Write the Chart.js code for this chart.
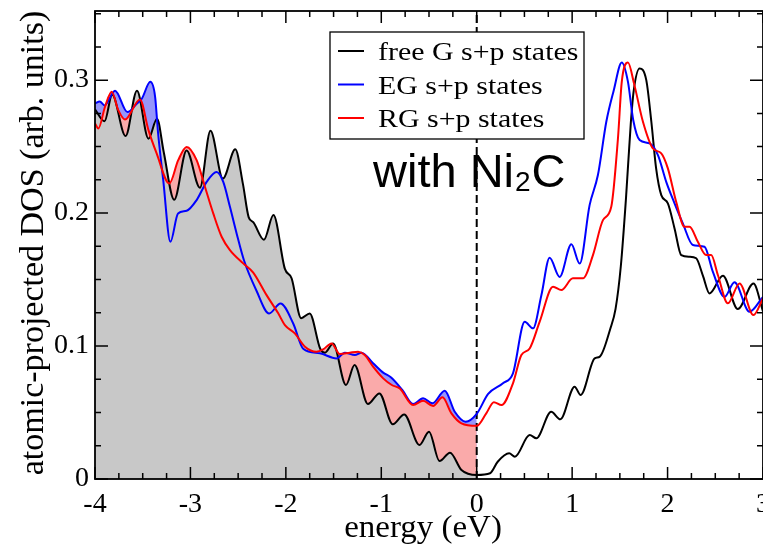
<!DOCTYPE html>
<html>
<head>
<meta charset="utf-8">
<script src="https://cdn.jsdelivr.net/npm/chart.js@4.4.0/dist/chart.umd.min.js"></script>
<style>
  html, body { margin: 0; padding: 0; background: #fff; }
  #grafico { display: block; }
</style>
</head>
<body>
<canvas id="grafico" width="763" height="544"></canvas>
<script>
// curvas: energia (eV) y DOS proyectada
const blackE = [-4.00, -3.90, -3.82, -3.68, -3.56, -3.44, -3.35, -3.28, -3.17, -3.04, -2.90, -2.79, -2.66, -2.53, -2.45, -2.39, -2.34, -2.23, -2.13, -2.01, -1.94, -1.84, -1.75, -1.64, -1.59, -1.505, -1.37, -1.28, -1.14, -1.02, -0.88, -0.76, -0.60, -0.50, -0.39, -0.28, -0.16, 0.00, 0.14, 0.22, 0.34, 0.40, 0.555, 0.625, 0.78, 0.876, 1.026, 1.089, 1.236, 1.29, 1.40, 1.455, 1.51, 1.565, 1.615, 1.645, 1.707, 1.777, 1.83, 1.88, 1.934, 2.003, 2.073, 2.143, 2.23, 2.30, 2.37, 2.44, 2.58, 2.736, 2.90, 3.00];
const blackDOS = [0.278, 0.269, 0.289, 0.258, 0.292, 0.256, 0.271, 0.246, 0.210, 0.247, 0.219, 0.262, 0.226, 0.248, 0.222, 0.197, 0.193, 0.180, 0.1985, 0.158, 0.151, 0.121, 0.1245, 0.098, 0.095, 0.102, 0.0707, 0.0857, 0.0564, 0.0644, 0.0411, 0.0485, 0.0256, 0.0356, 0.0135, 0.0198, 0.0068, 0.003, 0.0043, 0.013, 0.0193, 0.0168, 0.0331, 0.0306, 0.0506, 0.0449, 0.0694, 0.0632, 0.0907, 0.092, 0.113, 0.128, 0.160, 0.212, 0.268, 0.292, 0.3088, 0.300, 0.2687, 0.2336, 0.2135, 0.2073, 0.1885, 0.1684, 0.1672, 0.166, 0.153, 0.1396, 0.1529, 0.1278, 0.147, 0.126];

const blueE = [-4.00, -3.95, -3.90, -3.79, -3.66, -3.56, -3.51, -3.42, -3.37, -3.34, -3.285, -3.21, -3.13, -3.04, -2.935, -2.83, -2.726, -2.656, -2.586, -2.516, -2.44, -2.31, -2.175, -2.056, -1.923, -1.818, -1.644, -1.469, -1.382, -1.277, -1.207, -1.086, -0.98, -0.90, -0.78, -0.667, -0.562, -0.464, -0.335, -0.23, -0.115, 0.00, 0.12, 0.275, 0.38, 0.503, 0.59, 0.677, 0.764, 0.869, 0.992, 1.079, 1.183, 1.27, 1.358, 1.435, 1.52, 1.585, 1.64, 1.707, 1.812, 1.899, 1.986, 2.073, 2.16, 2.265, 2.387, 2.474, 2.597, 2.701, 2.858, 3.00];
const blueDOS = [0.2825, 0.284, 0.281, 0.292, 0.276, 0.2825, 0.286, 0.2987, 0.2875, 0.261, 0.2248, 0.1784, 0.1997, 0.2017, 0.2098, 0.2235, 0.231, 0.2235, 0.2047, 0.1847, 0.1647, 0.142, 0.1245, 0.132, 0.117, 0.098, 0.0945, 0.0907, 0.095, 0.0932, 0.095, 0.087, 0.080, 0.0765, 0.067, 0.0564, 0.0607, 0.0569, 0.0664, 0.0506, 0.0431, 0.049, 0.064, 0.072, 0.0795, 0.1183, 0.1133, 0.138, 0.1664, 0.152, 0.1765, 0.162, 0.206, 0.2286, 0.2687, 0.292, 0.3133, 0.2987, 0.270, 0.2549, 0.2524, 0.2436, 0.2235, 0.2073, 0.1922, 0.176, 0.1747, 0.156, 0.137, 0.148, 0.1258, 0.137];

const redE = [-4.00, -3.965, -3.895, -3.825, -3.756, -3.686, -3.529, -3.44, -3.354, -3.222, -3.128, -3.04, -2.935, -2.848, -2.761, -2.673, -2.586, -2.447, -2.342, -2.202, -2.08, -2.01, -1.906, -1.80, -1.679, -1.609, -1.521, -1.435, -1.33, -1.243, -1.173, -1.086, -0.98, -0.89, -0.806, -0.667, -0.562, -0.457, -0.359, -0.265, -0.16, 0.00, 0.10, 0.18, 0.26, 0.38, 0.468, 0.555, 0.66, 0.80, 0.887, 1.008, 1.113, 1.218, 1.323, 1.41, 1.48, 1.52, 1.585, 1.65, 1.742, 1.846, 1.934, 2.003, 2.09, 2.178, 2.23, 2.317, 2.404, 2.457, 2.527, 2.632, 2.754, 2.90, 3.00];
const redDOS = [0.2674, 0.2637, 0.280, 0.2912, 0.2774, 0.2704, 0.2855, 0.2624, 0.2449, 0.2223, 0.2398, 0.2498, 0.2398, 0.2198, 0.1998, 0.1822, 0.1722, 0.1622, 0.1553, 0.1383, 0.1246, 0.1158, 0.1095, 0.0995, 0.0957, 0.0975, 0.102, 0.094, 0.095, 0.0957, 0.0932, 0.0845, 0.0757, 0.0707, 0.068, 0.0556, 0.0589, 0.0549, 0.0614, 0.0494, 0.0419, 0.040, 0.0494, 0.0578, 0.0556, 0.072, 0.0932, 0.0982, 0.1183, 0.1446, 0.1421, 0.1509, 0.1509, 0.1684, 0.1947, 0.2047, 0.2561, 0.2987, 0.3133, 0.297, 0.2687, 0.2486, 0.2449, 0.2336, 0.2085, 0.1897, 0.1897, 0.1784, 0.1684, 0.1684, 0.1534, 0.1321, 0.1471, 0.1233, 0.1359];

const etiquetas = ['free G s+p states', 'EG s+p states', 'RG s+p states'];
const colores = ['#000000', '#0000ff', '#ff0000'];

const xTicks = [-4, -3, -2, -1, 0, 1, 2, 3];
const xTickLabels = ['-4', '-3', '-2', '-1', '0', '1', '2', '3'];
const yTicks = [0, 0.1, 0.2, 0.3];
const yTickLabels = ['0', '0.1', '0.2', '0.3'];
const xMin = -4, xMax = 3, xMinor = 0.25;
const yMin = 0, yMax = 0.352, yMinor = 0.025;
const nivelFermi = 0;

const serif = '"Liberation Serif", "Times New Roman", serif';

function puntos(xs, ys) {
  return xs.map((x, i) => ({ x: x, y: ys[i] }));
}
// solo la parte ocupada (E <= 0) se rellena
function ocupados(xs, ys) {
  return puntos(xs, ys).filter(p => p.x <= nivelFermi + 1e-9);
}

function textoEstirado(ctx, txt, x, y, sx) {
  ctx.save();
  ctx.translate(x, y);
  ctx.scale(sx, 1);
  ctx.fillText(txt, 0, 0);
  ctx.restore();
}

const decoracion = {
  id: 'decoracion',
  afterDraw(chart) {
    const { ctx, chartArea: a } = chart;
    const sx = chart.scales.x, sy = chart.scales.y;
    ctx.save();

    // marcas hacia dentro en los cuatro lados
    ctx.strokeStyle = '#000';
    ctx.lineWidth = 1.5;
    ctx.beginPath();
    for (let v = xMin; v <= xMax + 1e-9; v += xMinor) {
      const px = sx.getPixelForValue(v);
      const mayor = Math.abs(v - Math.round(v)) < 1e-6;
      const len = mayor ? 12 : 6;
      ctx.moveTo(px, a.bottom); ctx.lineTo(px, a.bottom - len);
      ctx.moveTo(px, a.top); ctx.lineTo(px, a.top + len);
    }
    for (let v = yMin; v <= yMax + 1e-9; v += yMinor) {
      const py = sy.getPixelForValue(v);
      const mayor = Math.abs(v * 10 - Math.round(v * 10)) < 1e-6;
      const len = mayor ? 13 : 6;
      ctx.moveTo(a.left, py); ctx.lineTo(a.left + len, py);
      ctx.moveTo(a.right, py); ctx.lineTo(a.right - len, py);
    }
    ctx.stroke();
    ctx.lineWidth = 1.8;
    ctx.strokeRect(a.left, a.top, a.right - a.left, a.bottom - a.top);

    // leyenda
    ctx.fillStyle = '#fff';
    ctx.fillRect(330, 32, 254, 107);
    ctx.strokeStyle = '#000';
    ctx.lineWidth = 1.3;
    ctx.strokeRect(330, 32, 254, 107);
    ctx.font = '26px ' + serif;
    ctx.textBaseline = 'alphabetic';
    etiquetas.forEach((txt, i) => {
      const yl = 51 + i * 33.5;
      ctx.strokeStyle = colores[i];
      ctx.lineWidth = 2;
      ctx.beginPath();
      ctx.moveTo(338, yl); ctx.lineTo(364, yl);
      ctx.stroke();
      ctx.fillStyle = '#000';
      textoEstirado(ctx, txt, 378, yl + 9, 1.15);
    });

    // anotacion
    ctx.fillStyle = '#000';
    ctx.font = '47px "Liberation Sans", Arial, sans-serif';
    let x0 = 373;
    ctx.fillText('with Ni', x0, 187);
    x0 += ctx.measureText('with Ni').width + 1;
    ctx.font = '28px "Liberation Sans", Arial, sans-serif';
    ctx.fillText('2', x0, 191);
    x0 += ctx.measureText('2').width + 1;
    ctx.font = '47px "Liberation Sans", Arial, sans-serif';
    ctx.fillText('C', x0, 187);

    // titulos de los ejes
    ctx.font = '32px ' + serif;
    ctx.textAlign = 'center';
    textoEstirado(ctx, 'energy (eV)', 423, 537, 1.03);
    ctx.save();
    ctx.translate(43, 243);
    ctx.rotate(-Math.PI / 2);
    ctx.font = '34px ' + serif;
    ctx.fillText('atomic-projected DOS (arb. units)', 0, 0);
    ctx.restore();

    ctx.restore();
  }
};

const base = { pointRadius: 0, cubicInterpolationMode: 'monotone' };

new Chart(document.getElementById('grafico'), {
  type: 'line',
  data: {
    datasets: [
      // rellenos (el primero queda encima)
      Object.assign({ data: ocupados(blackE, blackDOS), fill: 'origin', backgroundColor: 'rgb(200,200,200)', borderColor: 'rgba(0,0,0,0)', borderWidth: 0 }, base),
      Object.assign({ data: ocupados(redE, redDOS), fill: 'origin', backgroundColor: 'rgb(250,170,170)', borderColor: 'rgba(0,0,0,0)', borderWidth: 0 }, base),
      Object.assign({ data: ocupados(blueE, blueDOS), fill: 'origin', backgroundColor: 'rgb(150,150,250)', borderColor: 'rgba(0,0,0,0)', borderWidth: 0 }, base),
      // curvas
      Object.assign({ label: etiquetas[2], data: puntos(redE, redDOS), borderColor: colores[2], borderWidth: 2, fill: false }, base),
      Object.assign({ label: etiquetas[1], data: puntos(blueE, blueDOS), borderColor: colores[1], borderWidth: 2, fill: false }, base),
      Object.assign({ label: etiquetas[0], data: puntos(blackE, blackDOS), borderColor: colores[0], borderWidth: 2, fill: false }, base),
      // nivel de Fermi
      { data: [{ x: nivelFermi, y: yMin }, { x: nivelFermi, y: yMax }], borderColor: '#000', borderWidth: 2, borderDash: [8, 4], pointRadius: 0, fill: false }
    ]
  },
  options: {
    responsive: false,
    animation: false,
    layout: { padding: { top: 11, right: 0, left: 0, bottom: 0 } },
    plugins: {
      legend: { display: false },
      tooltip: { enabled: false },
      filler: { drawTime: 'beforeDatasetsDraw' }
    },
    scales: {
      x: {
        type: 'linear', min: xMin, max: xMax,
        afterBuildTicks: s => { s.ticks = xTicks.map(v => ({ value: v })); },
        afterFit: s => { s.height = 65; s.paddingLeft = 0; s.paddingRight = 0; },
        grid: { display: false, drawTicks: false },
        border: { display: false },
        ticks: {
          autoSkip: false, maxRotation: 0, padding: 9, color: '#000',
          font: { family: serif, size: 28 },
          callback: (v, i) => xTickLabels[i]
        }
      },
      y: {
        type: 'linear', min: yMin, max: yMax,
        afterBuildTicks: s => { s.ticks = yTicks.map(v => ({ value: v })); },
        afterFit: s => { s.width = 95; s.paddingTop = 0; s.paddingBottom = 0; },
        grid: { display: false, drawTicks: false },
        border: { display: false },
        ticks: {
          padding: 6, color: '#000',
          font: { family: serif, size: 28 },
          callback: (v, i) => yTickLabels[i]
        }
      }
    }
  },
  plugins: [decoracion]
});
</script>
</body>
</html>
